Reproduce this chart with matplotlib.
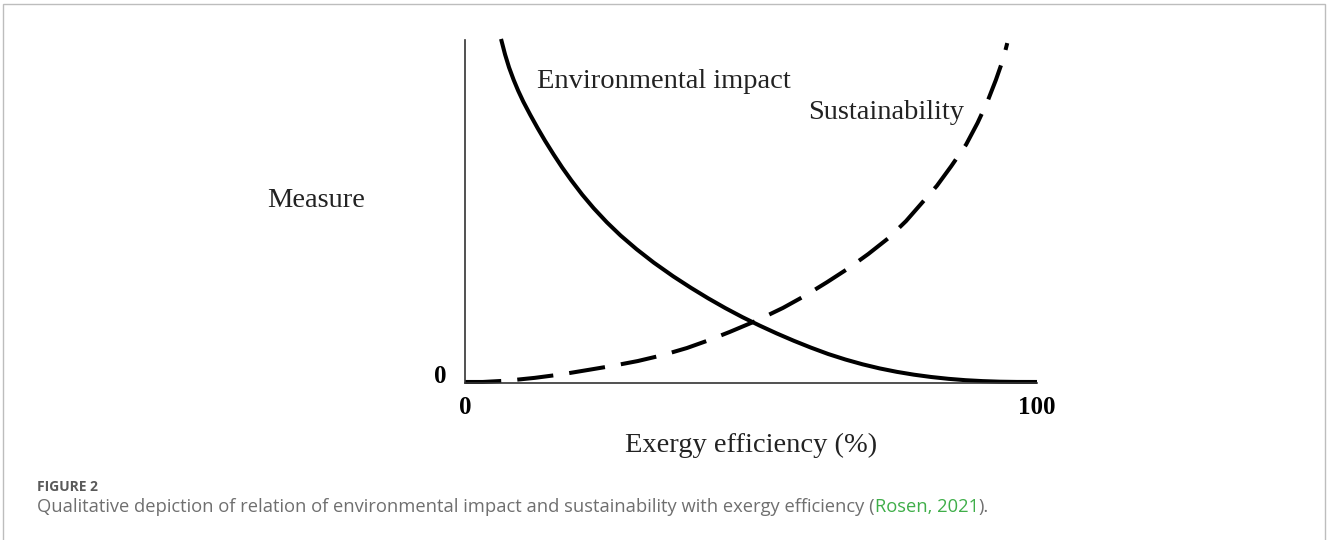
import matplotlib.pyplot as plt
from matplotlib.patches import Rectangle

# values (x: exergy efficiency %, y: measure, 0-100 scale)
impact_x = [6.3, 7.0, 7.7, 8.5, 9.3, 10.2, 11.4, 12.7, 14.0, 15.5, 17.0, 18.6,
            20.5, 22.5, 24.8, 27.2, 30.0, 33.0, 36.4, 39.5, 42.5, 45.5, 48.5,
            51.5, 54.5, 57.5, 60.5, 63.5, 66.5, 69.5, 72.5, 75.5, 78.5, 81.5,
            84.5, 87.5, 90.5, 93.5, 96.5, 100.0]
impact_y = [100.3, 95.8, 92.0, 88.4, 85.2, 82.0, 78.2, 74.3, 70.6, 66.6, 62.8, 59.05,
            54.9, 50.95, 46.85, 43.0, 39.0, 35.1, 31.1, 27.75, 24.7, 21.85, 19.2,
            16.75, 14.45, 12.3, 10.3, 8.45, 6.85, 5.45, 4.25, 3.25, 2.42, 1.75,
            1.22, 0.82, 0.55, 0.38, 0.31, 0.3]

sust_x = [0.0, 3.1, 7.5, 12.2, 16.8, 21.5, 25.8, 30.2, 34.5, 38.8, 42.5, 46.3,
          51.0, 55.6, 59.5, 63.3, 67.0, 70.5, 74.0, 77.1, 82.5, 85.0, 87.6,
          89.6, 91.3, 92.8, 94.1, 94.8]
sust_y = [0.3, 0.3, 0.7, 1.5, 2.5, 3.8, 5.0, 6.4, 8.1, 10.2, 12.4, 14.9,
          18.2, 21.9, 25.5, 29.4, 33.4, 37.6, 42.2, 47.2, 57.5, 63.2, 69.5,
          75.8, 81.9, 88.3, 94.5, 99.1]

x_ticks = [0, 100]
x_tick_labels = ["0", "100"]
y_ticks = [0]
y_tick_labels = ["0"]

W, H = 1328, 540
fig = plt.figure(figsize=(W / 100, H / 100), dpi=100)
fig.patch.set_facecolor("white")

# light frame around the figure panel
fig.patches.append(Rectangle((3.5 / W, -0.1), (1325 - 3.5) / W, 1.1 - 4.5 / H,
                             transform=fig.transFigure, fill=False,
                             edgecolor="#bdbdbd", linewidth=1.0))

ax = fig.add_axes([465 / W, (H - 383) / H, 572 / W, 343 / H])
serif = "Liberation Serif"
fs = 20.5

ax.plot(impact_x, impact_y, color="black", linewidth=2.9, clip_on=False,
        solid_capstyle="butt", solid_joinstyle="round")
ax.plot(sust_x, sust_y, color="black", linewidth=2.9, clip_on=False,
        dashes=(9, 4), dash_capstyle="butt", dash_joinstyle="round")

ax.set_xlim(0, 100)
ax.set_ylim(0, 100)
for side in ["top", "right"]:
    ax.spines[side].set_visible(False)
for side in ["left", "bottom"]:
    ax.spines[side].set_color("#333333")
    ax.spines[side].set_linewidth(1.2)

ax.set_xticks(x_ticks)
ax.set_xticklabels(x_tick_labels, fontfamily=serif, fontweight="bold", fontsize=18)
ax.set_yticks(y_ticks)
ax.set_yticklabels(y_tick_labels, fontfamily=serif, fontweight="bold", fontsize=18,
                   va="baseline")
ax.tick_params(length=0)
ax.tick_params(axis="y", pad=13)
ax.tick_params(axis="x", pad=9)

ax.text(12.6, 87.8, "Environmental impact", fontfamily=serif, fontsize=fs,
        color="#222222", ha="left", va="center")
ax.text(60.0, 79.0, "Sustainability", fontfamily=serif, fontsize=fs,
        color="#222222", ha="left", va="center")
ax.text(-34.6, 53.1, "Measure", fontfamily=serif, fontsize=fs,
        color="#222222", ha="left", va="center")
ax.set_xlabel("Exergy efficiency (%)", fontfamily=serif, fontsize=fs,
              color="#222222", labelpad=10)

# caption
fig.text(37 / W, 1 - 487 / H, "FIGURE 2", fontfamily="Open Sans", fontweight="bold",
         fontsize=10, color="#5a5a5a", va="center", ha="left")
cap_y = 1 - 507 / H
cap = fig.text(37 / W, cap_y,
               "Qualitative depiction of relation of environmental impact and "
               "sustainability with exergy efficiency (",
               fontfamily="Open Sans", fontsize=13.2, color="#6f6f6f",
               va="center", ha="left")
fig.canvas.draw()
bb = cap.get_window_extent()
ref = fig.text(bb.x1 / W, cap_y, "Rosen, 2021", fontfamily="Open Sans",
               fontsize=13.2, color="#3fae49", va="center", ha="left")
bb2 = ref.get_window_extent()
fig.text(bb2.x1 / W, cap_y, ").", fontfamily="Open Sans", fontsize=13.2,
         color="#6f6f6f", va="center", ha="left")

fig.savefig("out.png", dpi=100)
